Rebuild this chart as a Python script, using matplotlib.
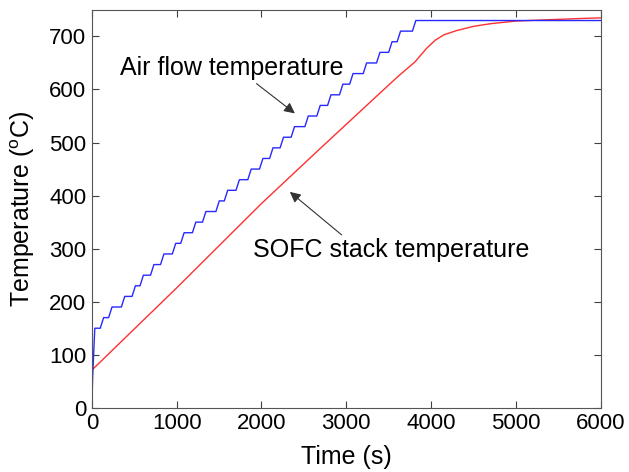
import matplotlib
matplotlib.use("Agg")
import matplotlib.pyplot as plt
import numpy as np

plt.rcParams['font.family'] = ['Liberation Sans', 'DejaVu Sans']
plt.rcParams['mathtext.fontset'] = 'custom'
plt.rcParams['mathtext.rm'] = 'Liberation Sans'
plt.rcParams['mathtext.default'] = 'regular'

# Air flow temperature: initial rise, then staircase levels and rise start times
air_start_t = [0, 10, 35]
air_start_T = [0, 60, 150]
air_levels = [150, 170, 190, 210, 230, 250, 270, 290, 310, 330, 350, 370, 390, 410,
              430, 450, 470, 490, 510, 530, 550, 570, 590, 610, 630, 650, 670, 690,
              710, 730]
air_rise_times = [99, 198, 348, 474, 568, 692, 810, 949, 1048, 1186, 1305, 1463, 1562,
                  1700, 1839, 1977, 2096, 2220, 2350, 2512, 2653, 2780, 2920, 3040,
                  3200, 3357, 3500, 3600, 3780]
air_rise_duration = 40
air_end_t = 6000

# SOFC stack temperature
stack_t = [0, 1000, 2000, 2674, 3416, 3613, 3810, 3950, 4050, 4150, 4300, 4500,
           4700, 5000, 5300, 5800, 6000]
stack_T = [71, 226, 385, 486, 596, 625, 652, 678, 693, 703, 711, 719, 724, 729,
           731, 734, 735]

x_ticks = [0, 1000, 2000, 3000, 4000, 5000, 6000]
y_ticks = [0, 100, 200, 300, 400, 500, 600, 700]

# build staircase polyline
bt = list(air_start_t)
bT = list(air_start_T)
for i, tr in enumerate(air_rise_times):
    bt += [tr, tr + air_rise_duration]
    bT += [air_levels[i], air_levels[i + 1]]
bt.append(air_end_t)
bT.append(air_levels[-1])

fig = plt.figure(figsize=(6.29, 4.72), dpi=100)
ax = fig.add_axes([0.146, 0.136, 0.809, 0.843])

ax.plot(stack_t, stack_T, color='#ff3030', lw=1.0)
ax.plot(bt, bT, color='#2828ff', lw=1.0)

ax.set_xlim(0, 6000)
ax.set_ylim(0, 750)
ax.set_xticks(x_ticks)
ax.set_yticks(y_ticks)
ax.tick_params(direction='in', length=5, width=0.8, top=True, right=True,
               labelsize=16, colors='#404040', labelcolor='black', pad=4)
for s in ax.spines.values():
    s.set_color('#555555')
    s.set_linewidth(0.8)

ax.set_xlabel('Time (s)', fontsize=18, labelpad=8)
ax.set_ylabel('Temperature ($^{o}$C)', fontsize=18, labelpad=9)

ax.annotate('', xy=(2394, 555), xytext=(1942, 611),
            arrowprops=dict(arrowstyle='-|>', color='#333333', lw=0.8,
                            mutation_scale=16, shrinkA=0, shrinkB=0))
ax.text(330, 627, 'Air flow temperature', fontsize=18, ha='left', va='baseline')

ax.annotate('', xy=(2335, 407), xytext=(2945, 326),
            arrowprops=dict(arrowstyle='-|>', color='#333333', lw=0.8,
                            mutation_scale=16, shrinkA=0, shrinkB=0))
ax.text(1895, 284, 'SOFC stack temperature', fontsize=18, ha='left', va='baseline')

fig.savefig('out.png', dpi=100, facecolor='white')
